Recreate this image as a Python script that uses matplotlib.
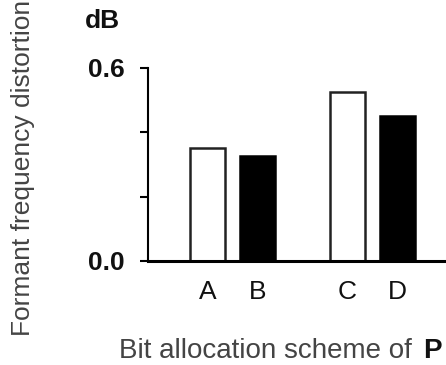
import matplotlib
matplotlib.use("Agg")
import matplotlib.pyplot as plt

categories = ["A", "B", "C", "D"]
positions = [0, 1, 2.8, 3.8]
values = [0.350, 0.327, 0.524, 0.451]
fills = ["white", "black", "white", "black"]
ytick_vals = [0.0, 0.2, 0.4, 0.6]
ytick_labels = ["0.0", "", "", "0.6"]

plt.rcParams['font.family'] = ['Liberation Sans', 'DejaVu Sans']

fig = plt.figure(figsize=(4.46, 3.65), dpi=100)
ax = fig.add_axes([148/446, 104/365, 1 - 148/446, 193/365])

ax.bar(positions, values, width=0.7, color=fills, edgecolor=["#222222", "black", "#222222", "black"],
       linewidth=1.8, zorder=2)

ax.set_xlim(-1.19, 4.77)
ax.set_ylim(0, 0.6)
ax.set_xticks(positions)
ax.set_xticklabels(categories, fontsize=19, color="#111111")
ax.set_yticks(ytick_vals)
ax.set_yticklabels(ytick_labels, fontsize=19, fontweight="bold", color="#111111")
ax.tick_params(axis="x", length=0, pad=14)
ax.tick_params(axis="y", direction="out", length=6, width=1.5, pad=11)

for s in ["top", "right"]:
    ax.spines[s].set_visible(False)
ax.spines["left"].set_linewidth(1.5)
ax.spines["bottom"].set_linewidth(2.2)
ax.spines["bottom"].set_zorder(3)

fig.text(85/446, (365-28)/365, "dB", fontsize=19, fontweight="bold", color="#111111",
         ha="left", va="baseline")
fig.text(23/446, 1 - 168/365, "Formant frequency distortion", rotation=90, fontsize=19,
         color="#444444", ha="center", va="center")
fig.text(412/446, 7/365, "Bit allocation scheme of", fontsize=20, color="#444444",
         ha="right", va="baseline")
fig.text(423/446, 7/365, "P", fontsize=20, fontweight="bold", color="#111111",
         ha="left", va="baseline")

fig.savefig("out.png", dpi=100)
